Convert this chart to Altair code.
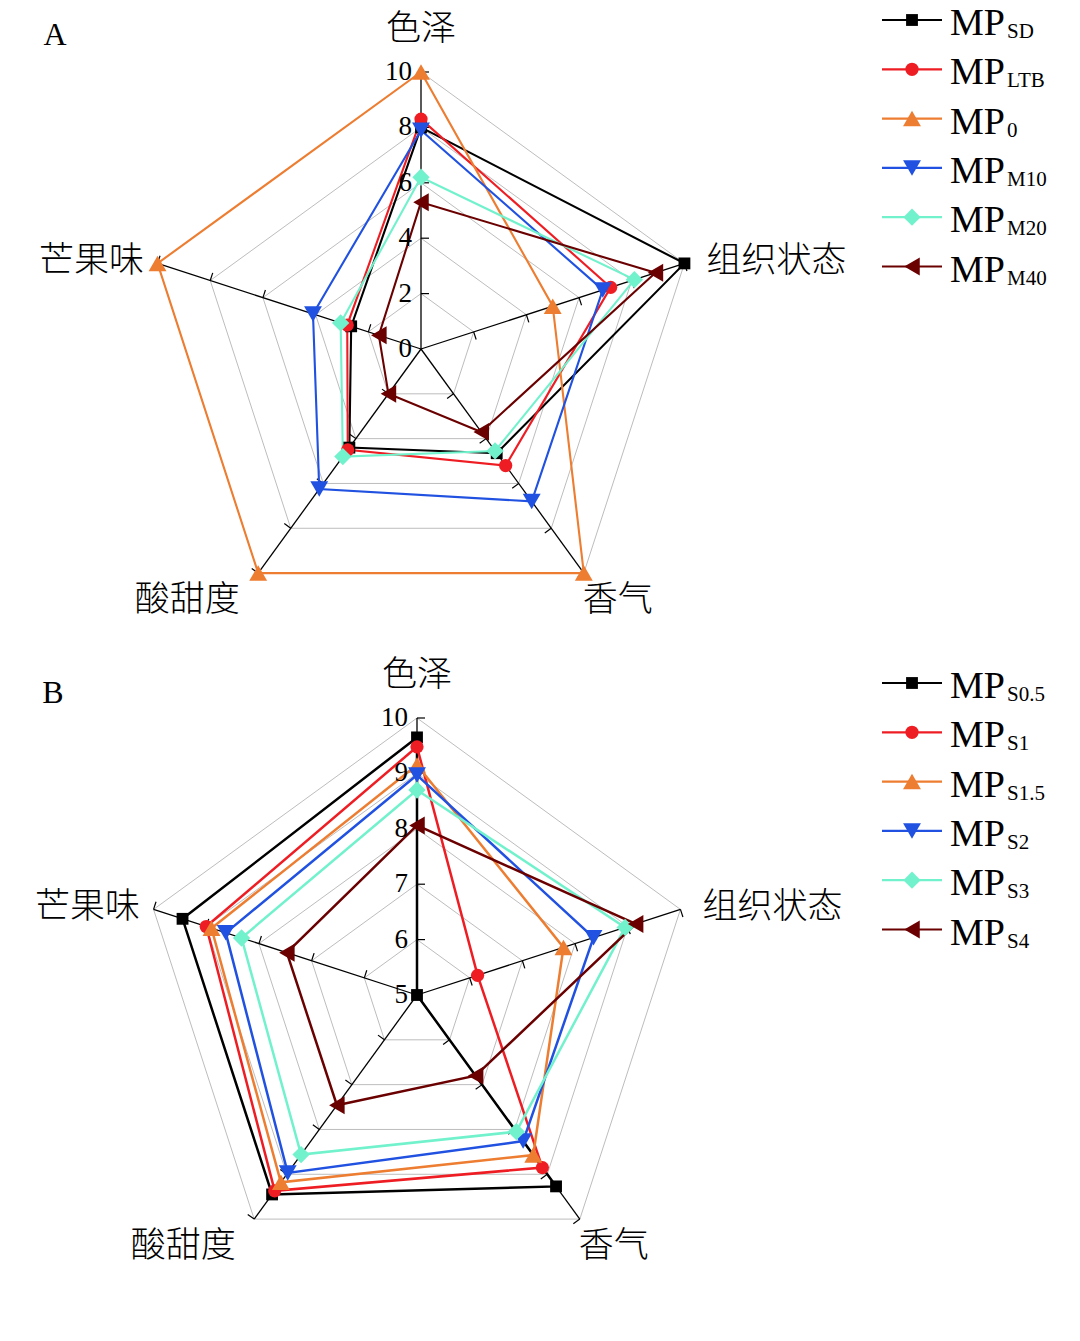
import altair as alt
import pandas as pd

# ---------------- data ----------------
dims = ["色泽", "组织状态", "香气", "酸甜度", "芒果味"]

# Panel A (order of values follows dims)
a_names = ["SD", "LTB", "0", "M10", "M20", "M40"]
a_SD = [8.0, 10.0, 4.65, 4.4, 2.65]
a_LTB = [8.3, 7.2, 5.2, 4.5, 2.8]
a_0 = [10.0, 5.0, 10.0, 10.0, 10.0]
a_M10 = [7.9, 6.9, 6.8, 6.25, 4.1]
a_M20 = [6.2, 8.1, 4.55, 4.8, 3.05]
a_M40 = [5.3, 8.9, 3.7, 2.0, 1.6]
a_ticks = [0, 2, 4, 6, 8, 10]

# Panel B
b_names = ["S0.5", "S1", "S1.5", "S2", "S3", "S4"]
b_S05 = [9.65, 5.0, 9.27, 9.45, 9.45]
b_S1 = [9.48, 6.15, 8.85, 9.37, 9.0]
b_S15 = [9.15, 7.78, 8.57, 9.18, 8.9]
b_S2 = [8.97, 8.35, 8.26, 8.97, 8.63]
b_S3 = [8.7, 8.95, 8.05, 8.56, 8.33]
b_S4 = [8.06, 9.15, 6.8, 7.46, 7.47]
b_ticks = [5, 6, 7, 8, 9, 10]

panels = [
    ("A", a_names, [a_SD, a_LTB, a_0, a_M10, a_M20, a_M40], a_ticks),
    ("B", b_names, [b_S05, b_S1, b_S15, b_S2, b_S3, b_S4], b_ticks),
]

colors = ["#000000", "#ee1d23", "#ed7d31", "#2051e0", "#72f2cc", "#6b0000"]
shapes = ["square", "circle", "triangle-up", "triangle-down", "diamond", "triangle-left"]
msizes = [140, 175, 320, 320, 300, 320]

# ---------------- tables ----------------
series_rows, ring_rows, spoke_rows, tick_rows, vlab_rows, cat_rows, leg_rows = [], [], [], [], [], [], []
for panel, names, vals, ticks in panels:
    vmin, vmax = ticks[0], ticks[-1]
    for i, (nm, v) in enumerate(zip(names, vals)):
        for k in range(6):
            series_rows.append(dict(panel=panel, idx=i, k=k, value=v[k % 5], vmin=vmin, vmax=vmax))
        leg_rows.append(dict(panel=panel, idx=i, sub=nm))
    for j, t in enumerate(ticks):
        if j > 0:
            for k in range(6):
                ring_rows.append(dict(panel=panel, level=j, k=k, value=t, vmin=vmin, vmax=vmax))
            for k in range(5):
                tick_rows.append(dict(panel=panel, level=j, k=k, value=t, vmin=vmin, vmax=vmax))
        vlab_rows.append(dict(panel=panel, k=0, value=t, vmin=vmin, vmax=vmax, label=str(t)))
    for k in range(5):
        spoke_rows.append(dict(panel=panel, k=k, value=vmax, vmin=vmin, vmax=vmax))
        cat_rows.append(dict(panel=panel, k=k, value=vmax, vmin=vmin, vmax=vmax, label=dims[k]))

W, H = 1064, 1325
R = 277

xs = alt.Scale(domain=[0, W], nice=False, zero=False)
ys = alt.Scale(domain=[H, 0], nice=False, zero=False)
size_expr = "[" + ", ".join(str(s) for s in msizes) + "][datum.idx]"


def polar(ch):
    return (
        ch.transform_calculate(ang="PI/2 - datum.k*2*PI/5")
        .transform_calculate(r=f"(datum.value - datum.vmin)/(datum.vmax - datum.vmin)*{R}")
        .transform_calculate(cx="datum.panel == 'A' ? 413 : 409")
        .transform_calculate(cy="datum.panel == 'A' ? 341 : 987")
        .transform_calculate(px="datum.cx + datum.r*cos(datum.ang)")
        .transform_calculate(py="datum.cy - datum.r*sin(datum.ang)")
    )


X = alt.X("px:Q", scale=xs, axis=None)
Y = alt.Y("py:Q", scale=ys, axis=None)

rings = polar(alt.Chart(pd.DataFrame(ring_rows))).mark_line(
    color="#bdbdbd", strokeWidth=1
).encode(x=X, y=Y, detail=["panel:N", "level:Q"], order="k:Q")

spokes = (
    polar(alt.Chart(pd.DataFrame(spoke_rows)))
    .mark_rule(color="#000000", strokeWidth=1.3)
    .encode(x=alt.X("cx:Q", scale=xs, axis=None), y=alt.Y("cy:Q", scale=ys, axis=None),
            x2="px:Q", y2="py:Q")
)

ticks_l = (
    polar(alt.Chart(pd.DataFrame(tick_rows)))
    .transform_calculate(tx="datum.px + 8*sin(datum.ang)", ty="datum.py + 8*cos(datum.ang)")
    .mark_rule(color="#000000", strokeWidth=1.2)
    .encode(x=X, y=Y, x2="tx:Q", y2="ty:Q")
)

vlabels = (
    polar(alt.Chart(pd.DataFrame(vlab_rows)))
    .transform_calculate(lx="datum.cx - 9")
    .mark_text(font="Liberation Serif", fontSize=27, align="right", baseline="middle", color="#000000")
    .encode(x=alt.X("lx:Q", scale=xs, axis=None), y=Y, text="label:N")
)

catlabels = (
    polar(alt.Chart(pd.DataFrame(cat_rows)))
    .transform_calculate(lx="datum.px + [0, 92, 34, -71, -66][datum.k]",
                         ly="datum.py + [-43, -2, 27, 27, -2][datum.k]")
    .mark_text(font="Noto Sans CJK SC", fontSize=35, fontWeight=300, align="center",
               baseline="middle", color="#000000")
    .encode(x=alt.X("lx:Q", scale=xs, axis=None), y=alt.Y("ly:Q", scale=ys, axis=None), text="label:N")
)

col = alt.Color("idx:N", scale=alt.Scale(domain=list(range(6)), range=colors), legend=None)
shp = alt.Shape("idx:N", scale=alt.Scale(domain=list(range(6)), range=shapes), legend=None)
siz = alt.Size("msz:Q", scale=None, legend=None)
sw = alt.StrokeWidth("panel:N", scale=alt.Scale(domain=["A", "B"], range=[2.1, 2.5]), legend=None)

sdf = pd.DataFrame(series_rows)
lines = polar(alt.Chart(sdf)).mark_line().encode(
    x=X, y=Y, color=col, strokeWidth=sw, detail=["panel:N", "idx:N"], order="k:Q"
)
points = (
    polar(alt.Chart(sdf))
    .transform_filter("datum.k < 5")
    .transform_calculate(msz=size_expr)
    .mark_point(filled=True, opacity=1)
    .encode(x=X, y=Y, color=col, shape=shp, size=siz)
)

# ---------------- legend ----------------
ldf = pd.DataFrame(leg_rows)
leg_base = alt.Chart(ldf).transform_calculate(
    ly="(datum.panel == 'A' ? 12 : 675) + datum.idx*49.3"
)
leg_lines = leg_base.transform_calculate(x1="874", x2="934").mark_rule(strokeWidth=2.2).encode(
    x=alt.X("x1:Q", scale=xs, axis=None), x2="x2:Q",
    y=alt.Y("ly:Q", scale=ys, axis=None), color=col
)
leg_pts = leg_base.transform_calculate(mx="904", msz=size_expr).mark_point(filled=True, opacity=1).encode(
    x=alt.X("mx:Q", scale=xs, axis=None), y=alt.Y("ly:Q", scale=ys, axis=None),
    color=col, shape=shp, size=siz
)
leg_mp = leg_base.transform_calculate(tx="942", ty="datum.ly + 15", t="'MP'").mark_text(
    font="Liberation Serif", fontSize=38, align="left", baseline="alphabetic", color="#000000"
).encode(x=alt.X("tx:Q", scale=xs, axis=None), y=alt.Y("ty:Q", scale=ys, axis=None), text="t:N")
leg_sub = leg_base.transform_calculate(tx="999", ty="datum.ly + 18").mark_text(
    font="Liberation Serif", fontSize=21, align="left", baseline="alphabetic", color="#000000"
).encode(x=alt.X("tx:Q", scale=xs, axis=None), y=alt.Y("ty:Q", scale=ys, axis=None), text="sub:N")

# panel letters
pdf = pd.DataFrame({"letter": ["A", "B"]})
plabels = alt.Chart(pdf).transform_calculate(
    tx="datum.letter == 'A' ? 47 : 45", ty="datum.letter == 'A' ? 27 : 685"
).mark_text(font="Liberation Serif", fontSize=32, align="center", baseline="middle", color="#000000").encode(
    x=alt.X("tx:Q", scale=xs, axis=None), y=alt.Y("ty:Q", scale=ys, axis=None), text="letter:N"
)

chart = alt.layer(
    rings, spokes, ticks_l, lines, points, vlabels, catlabels,
    leg_lines, leg_pts, leg_mp, leg_sub, plabels
).properties(
    width=W, height=H, autosize=alt.AutoSizeParams(type="none"), padding=0, background="white"
).configure_view(stroke=None)

chart.save("out.html", embed_options={"renderer": "svg", "actions": False})
